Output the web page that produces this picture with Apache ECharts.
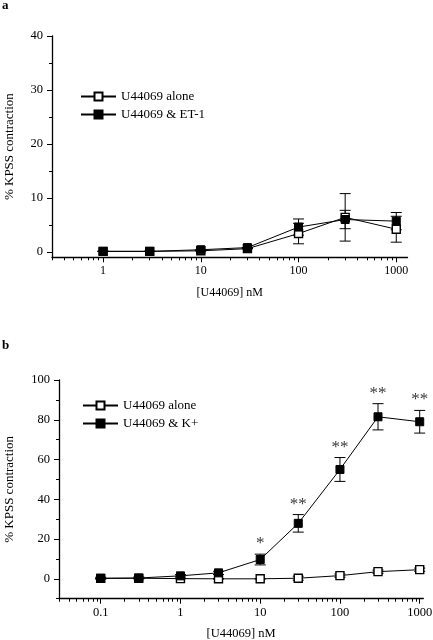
<!DOCTYPE html>
<html><head><meta charset="utf-8">
<script src="https://cdn.jsdelivr.net/npm/echarts@6/dist/echarts.min.js"></script>
<style>html,body{margin:0;padding:0;background:#fff}#c{width:433px;height:640px}</style>
</head><body><div id="c"></div>
<script>
// ---- Panel a data ----
const concA = [1, 3, 10, 30, 100, 300, 1000];
const aloneA = [0.1, 0.1, 0.2, 0.6, 3.4, 6.4, 4.2];
const aloneAErr = [0, 0, 0, 0, 1.9, 4.4, 2.4];
const et1A = [0.1, 0.1, 0.4, 0.8, 4.6, 6.0, 5.7];
const et1AErr = [0, 0, 0, 0, 1.5, 1.7, 1.6];
// ---- Panel b data ----
const concB = [0.1, 0.3, 1, 3, 10, 30, 100, 300, 1000];
const aloneB = [0.2, 0.3, 0.1, 0.0, 0.0, 0.3, 1.6, 3.6, 4.6];
const aloneBErr = [0, 0, 0, 0, 0, 1.0, 0.8, 0.8, 0.8];
const kB = [0.3, 0.4, 1.5, 3.0, 9.7, 27.9, 55, 81.5, 79];
const kBErr = [0.5, 0.5, 0.6, 0.8, 2.7, 4.4, 6.0, 6.6, 5.7];
const sigB = ['', '', '', '', '*', '**', '**', '**', '**'];
// ---- Tick labels ----
const xTicksA = [1, 10, 100, 1000];
const xTicksB = [0.1, 1, 10, 100, 1000];
const yTicksA = [0, 10, 20, 30, 40];
const yMinorA = [5, 15, 25, 35];
const yTicksB = [0, 20, 40, 60, 80, 100];
const yMinorB = [-10, 10, 30, 50, 70, 90];
const namesA = ['U44069 alone', 'U44069 & ET-1'];
const namesB = ['U44069 alone', 'U44069 & K+'];

const L = Math.log10;
const FONT = 'Liberation Serif';
function minorLog(lo, hi) {
  const out = [];
  for (let d = -3; d <= 4; d++) for (let m = 1; m <= 9; m++) {
    const v = m * Math.pow(10, d);
    if (v >= lo * 0.999 && v <= hi) out.push(L(v));
  }
  return out;
}
function fmtX(v) {
  const x = Math.pow(10, v);
  return x < 1 ? String(Number(x.toPrecision(2))) : String(Math.round(x));
}
const xMinA = L(0.3), xMaxA = 3.115;
const xMinB = L(0.03), xMaxB = 3.045;

function xMain(grid, min, max, ticks, fs, gap) {
  return {
    type: 'value', gridIndex: grid, position: 'bottom', min, max,
    name: '[U44069] nM', nameLocation: 'middle', nameGap: gap,
    nameTextStyle: {fontFamily: FONT, fontSize: fs, color: '#000'},
    axisLine: {show: true, onZero: false, lineStyle: {color: '#000', width: 1.3}},
    axisTick: {show: true, length: 5, customValues: ticks.map(L), lineStyle: {color: '#000', width: 1}},
    axisLabel: {show: true, customValues: ticks.map(L), formatter: fmtX, margin: 8,
      fontFamily: FONT, fontSize: fs, color: '#000'},
    splitLine: {show: false}
  };
}
function xMinor(grid, min, max, lo, hi) {
  return {
    type: 'value', gridIndex: grid, position: 'bottom', min, max,
    axisLine: {show: false, onZero: false},
    axisTick: {show: true, length: 3, customValues: minorLog(lo, hi), lineStyle: {color: '#000', width: 1}},
    axisLabel: {show: false}, splitLine: {show: false}
  };
}
function yMain(grid, min, max, ticks, gap) {
  return {
    type: 'value', gridIndex: grid, position: 'left', min, max,
    name: '% KPSS contraction', nameLocation: 'middle', nameGap: gap,
    nameTextStyle: {fontFamily: FONT, fontSize: 13, color: '#000'},
    axisLine: {show: true, onZero: false, lineStyle: {color: '#000', width: 1.3}},
    axisTick: {show: true, length: 5, customValues: ticks, lineStyle: {color: '#000', width: 1}},
    axisLabel: {show: true, customValues: ticks, margin: 9, fontFamily: FONT, fontSize: 12.5, color: '#000'},
    splitLine: {show: false}
  };
}
function yMinor(grid, min, max, ticks) {
  return {
    type: 'value', gridIndex: grid, position: 'left', min, max,
    axisLine: {show: false, onZero: false},
    axisTick: {show: true, length: 3, customValues: ticks, lineStyle: {color: '#000', width: 1}},
    axisLabel: {show: false}, splitLine: {show: false}
  };
}
function lineSeries(name, conc, vals, axis, filled) {
  return {
    type: 'line', name, xAxisIndex: axis, yAxisIndex: axis,
    data: conc.map((c, i) => [L(c), vals[i]]),
    symbol: 'rect', symbolSize: 8,
    lineStyle: {color: '#000', width: 1},
    itemStyle: filled ? {color: '#000', borderColor: '#000', borderWidth: 1}
                      : {color: '#fff', borderColor: '#000', borderWidth: 1.4},
    z: filled ? 4 : 3, animation: false
  };
}
function errRender(params, api) {
  const x = api.value(0), lo = api.value(1), hi = api.value(2);
  const p1 = api.coord([x, hi]), p2 = api.coord([x, lo]);
  const w = 5.5;
  const st = {stroke: '#000', lineWidth: 1};
  return {type: 'group', children: [
    {type: 'line', shape: {x1: p1[0], y1: p1[1], x2: p2[0], y2: p2[1]}, style: st},
    {type: 'line', shape: {x1: p1[0] - w, y1: p1[1], x2: p1[0] + w, y2: p1[1]}, style: st},
    {type: 'line', shape: {x1: p2[0] - w, y1: p2[1], x2: p2[0] + w, y2: p2[1]}, style: st}
  ]};
}
function errSeries(conc, vals, errs, axis) {
  return {
    type: 'custom', xAxisIndex: axis, yAxisIndex: axis, renderItem: errRender,
    data: conc.map((c, i) => [L(c), vals[i] - errs[i], vals[i] + errs[i]]),
    encode: {x: 0, y: [1, 2]}, z: 2, silent: true, animation: false
  };
}

const chart = echarts.init(document.getElementById('c'), null, {renderer: 'canvas'});
chart.setOption({
  animation: false,
  backgroundColor: '#fff',
  title: [
    {text: 'a', left: 2, top: -1, padding: 0, textStyle: {fontFamily: FONT, fontSize: 13, fontWeight: 'bold', color: '#000'}},
    {text: 'b', left: 2, top: 339, padding: 0, textStyle: {fontFamily: FONT, fontSize: 13, fontWeight: 'bold', color: '#000'}}
  ],
  grid: [
    {left: 52, top: 36, width: 355.5, height: 221.3, containLabel: false, outerBoundsMode: 'none'},
    {left: 59, top: 380, width: 364.3, height: 218.7, containLabel: false, outerBoundsMode: 'none'}
  ],
  legend: [
    {data: namesA, left: 75, top: 85, orient: 'vertical', itemWidth: 35, itemHeight: 10, itemGap: 5,
     textStyle: {fontFamily: FONT, fontSize: 13, color: '#000'}},
    {data: namesB, left: 77, top: 394, orient: 'vertical', itemWidth: 35, itemHeight: 10, itemGap: 5,
     textStyle: {fontFamily: FONT, fontSize: 13, color: '#000'}}
  ],
  xAxis: [
    xMain(0, xMinA, xMaxA, xTicksA, 12, 30),
    xMain(1, xMinB, xMaxB, xTicksB, 12.5, 29),
    xMinor(0, xMinA, xMaxA, 0.3, 1000),
    xMinor(1, xMinB, xMaxB, 0.03, 1000)
  ],
  yAxis: [
    yMain(0, -1, 40, yTicksA, 36),
    yMain(1, -10, 100, yTicksB, 43),
    yMinor(0, -1, 40, yMinorA),
    yMinor(1, -10, 100, yMinorB)
  ],
  series: [
    errSeries(concA, aloneA, aloneAErr, 0),
    errSeries(concA, et1A, et1AErr, 0),
    lineSeries(namesA[0], concA, aloneA, 0, false),
    lineSeries(namesA[1], concA, et1A, 0, true),
    errSeries(concB, aloneB, aloneBErr, 1),
    errSeries(concB, kB, kBErr, 1),
    lineSeries(namesB[0], concB, aloneB, 1, false),
    lineSeries(namesB[1], concB, kB, 1, true),
    {
      type: 'scatter', xAxisIndex: 1, yAxisIndex: 1, symbolSize: 0, silent: true,
      data: concB.map((c, i) => [L(c), kB[i] + kBErr[i]]),
      label: {show: true, position: 'top', distance: 2, fontFamily: FONT, fontSize: 17, color: '#000',
        formatter: p => sigB[p.dataIndex]},
      animation: false
    }
  ]
});
</script></body></html>
